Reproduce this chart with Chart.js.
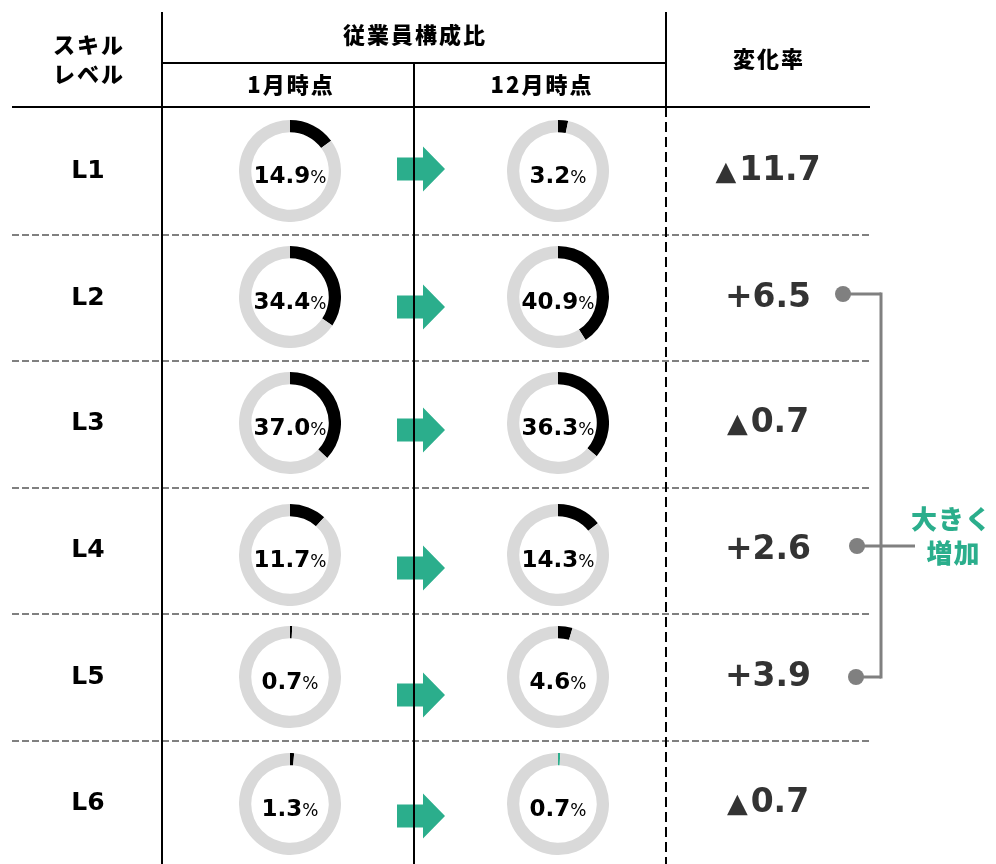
<!DOCTYPE html>
<html>
<head>
<meta charset="utf-8">
<script src="https://cdn.jsdelivr.net/npm/chart.js@4.4.1/dist/chart.umd.min.js"></script>
<style>
  body { margin: 0; background: #fff; }
  #wrap { position: relative; width: 996px; height: 864px; overflow: hidden; }
  #grid { position: absolute; left: 0; top: 0; }
  .donut { position: absolute; width: 102px; height: 102px; }
  .t { position: absolute; transform: translate(-50%, -50%); white-space: nowrap; line-height: 1; }
  .jp { font-family: "Noto Sans CJK JP", sans-serif; font-weight: 900; font-size: 22px; color: #000; letter-spacing: 2px; text-indent: 2px; }
  .lvl { font-family: "DejaVu Sans", sans-serif; font-weight: bold; font-size: 25px; color: #000; }
  .pct { font-family: "DejaVu Sans", sans-serif; font-weight: bold; font-size: 23px; color: #000; }
  .pct small { font-size: 17px; font-weight: normal; }
  .chg { font-family: "DejaVu Sans", sans-serif; font-weight: bold; font-size: 33px; color: #333; }
  .chg small { font-size: 27px; margin-right: 3px; }
  .note { font-family: "Noto Sans CJK JP", sans-serif; font-weight: 900; font-size: 26px; color: #2BAE8C; letter-spacing: 1px; text-indent: 1px; }
</style>
</head>
<body>
<div id="wrap"><canvas id="grid" width="996" height="864"></canvas></div>
<script>
// data
const levels = ['L1', 'L2', 'L3', 'L4', 'L5', 'L6'];
const janShare = [14.9, 34.4, 37.0, 11.7, 0.7, 1.3];
const decShare = [3.2, 40.9, 36.3, 14.3, 4.6, 0.7];
const changeLabels = ['▲11.7', '+6.5', '▲0.7', '+2.6', '+3.9', '▲0.7'];
const bigRise = [1, 3, 4];

// layout
const rowY = [169, 296, 421, 548, 675, 801];
const donutY = [171, 297, 423, 555, 677, 804];
const arrowY = [169, 307, 430, 568, 695, 816];
const janX = 290, decX = 558;
const TEAL = '#2BAE8C';
const decColor = { 5: TEAL };

const wrap = document.getElementById('wrap');
const g = document.getElementById('grid').getContext('2d');

function line(x1, y1, x2, y2, color, w, dash) {
  g.beginPath();
  g.setLineDash(dash || []);
  g.strokeStyle = color;
  g.lineWidth = w;
  g.moveTo(x1, y1);
  g.lineTo(x2, y2);
  g.stroke();
}

function text(html, x, y, cls) {
  const d = document.createElement('div');
  d.className = 't ' + cls;
  d.style.left = x + 'px';
  d.style.top = y + 'px';
  d.innerHTML = html;
  wrap.appendChild(d);
}

// row separators
[235, 361, 488, 614, 741].forEach(y => line(12, y, 870, y, '#808080', 2, [7, 3]));

// arrows
g.setLineDash([]);
g.fillStyle = TEAL;
arrowY.forEach(y => {
  g.beginPath();
  g.moveTo(397, y - 11.5);
  g.lineTo(423, y - 11.5);
  g.lineTo(423, y - 22.5);
  g.lineTo(445, y);
  g.lineTo(423, y + 22.5);
  g.lineTo(423, y + 11.5);
  g.lineTo(397, y + 11.5);
  g.closePath();
  g.fill();
});

// table rules
line(162, 63, 666, 63, '#000', 2);
line(12, 107, 870, 107, '#000', 2);
line(162, 12, 162, 864, '#000', 2);
line(414, 63, 414, 864, '#000', 2);
line(666, 12, 666, 107, '#000', 2);
line(666, 107, 666, 864, '#000', 2, [10, 5]);

// bracket for the big increases
const dotX = [843, 857, 856];
const dotY = [294, 546, 677];
line(dotX[0], dotY[0], 881, dotY[0], '#808080', 3);
line(881, dotY[0] - 1.5, 881, dotY[2] + 1.5, '#808080', 3);
line(dotX[2], dotY[2], 881, dotY[2], '#808080', 3);
line(dotX[1], dotY[1], 915, dotY[1], '#808080', 3);
g.fillStyle = '#808080';
bigRise.forEach((r, i) => {
  g.beginPath();
  g.arc(dotX[i], dotY[i], 8, 0, Math.PI * 2);
  g.fill();
});

// headers
text('スキル', 88, 43, 'jp');
text('レベル', 88, 72, 'jp');
text('従業員構成比', 414, 33, 'jp');
text('1月時点', 290, 83, 'jp');
text('12月時点', 541, 83, 'jp');
text('変化率', 768, 57, 'jp');
text('大きく', 951, 518, 'note');
text('増加', 953, 552, 'note');

function donut(cx, cy, value, color) {
  const box = document.createElement('div');
  box.className = 'donut';
  box.style.left = (cx - 51) + 'px';
  box.style.top = (cy - 51) + 'px';
  const cv = document.createElement('canvas');
  box.appendChild(cv);
  wrap.appendChild(box);
  new Chart(cv, {
    type: 'doughnut',
    data: {
      labels: ['share', 'rest'],
      datasets: [{
        data: [value, 100 - value],
        backgroundColor: [color, '#D9D9D9'],
        borderWidth: 0,
        hoverOffset: 0
      }]
    },
    options: {
      responsive: true,
      maintainAspectRatio: false,
      animation: false,
      events: [],
      cutout: '76%',
      layout: { padding: 0 },
      plugins: { legend: { display: false }, tooltip: { enabled: false } }
    }
  });
  text(value.toFixed(1) + '<small>%</small>', cx, cy + 4, 'pct');
}

levels.forEach((lv, i) => {
  text(lv, 88, rowY[i], 'lvl');
  donut(janX, donutY[i], janShare[i], '#000');
  donut(decX, donutY[i], decShare[i], decColor[i] || '#000');
  const c = changeLabels[i];
  const html = c[0] === '▲' ? '<small>▲</small>' + c.slice(1) : c;
  text(html, 768, rowY[i] - 1, 'chg');
});
</script>
</body>
</html>
